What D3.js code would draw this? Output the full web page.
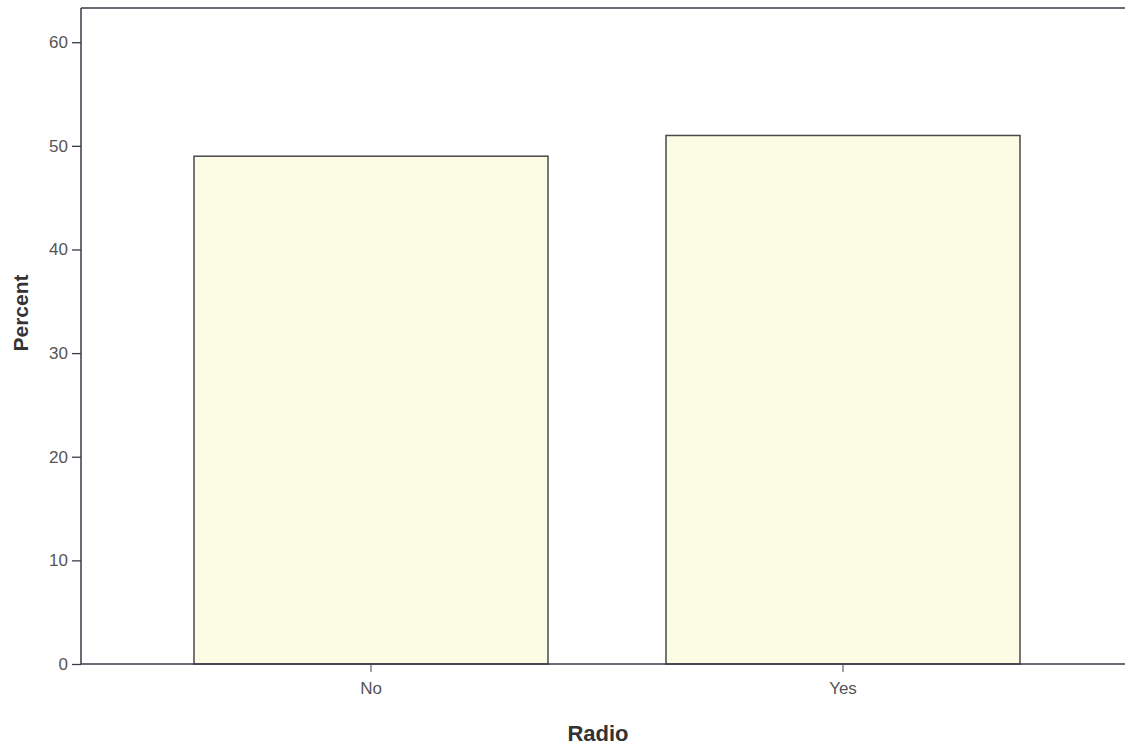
<!DOCTYPE html>
<html>
<head>
<meta charset="utf-8">
<script src="https://cdn.jsdelivr.net/npm/d3@7"></script>
<style>
  html, body { margin: 0; padding: 0; background: #ffffff; }
  svg { display: block; }
</style>
</head>
<body>
<svg id="chart" width="1129" height="754"></svg>
<script>
const categories = ["No", "Yes"];
const percentValues = [49.0, 51.0];
const yTickValues = [0, 10, 20, 30, 40, 50, 60];
const xAxisTitle = "Radio";
const yAxisTitle = "Percent";

const svg = d3.select("#chart");
const plot = { left: 81, right: 1125, top: 8, bottom: 664 };

const y = d3.scaleLinear().domain([0, 63.3]).range([plot.bottom, plot.top]);
const x = d3.scaleBand().domain(categories).range([76, 1138]).padding(0.25);

const axisColor = "#3a3a48";
const textColor = "#555555";
const font = "'Liberation Sans', Arial, sans-serif";

// top border
svg.append("line")
  .attr("x1", plot.left).attr("x2", plot.right)
  .attr("y1", plot.top).attr("y2", plot.top)
  .attr("stroke", axisColor).attr("stroke-width", 1.5);

// bars
svg.append("g").selectAll("rect")
  .data(categories.map((c, i) => ({ c, v: percentValues[i] })))
  .join("rect")
  .attr("x", d => x(d.c))
  .attr("y", d => y(d.v))
  .attr("width", x.bandwidth())
  .attr("height", d => y(0) - y(d.v))
  .attr("fill", "#fcfbe3")
  .attr("stroke", "#4a4a4a")
  .attr("stroke-width", 1.5);

// y axis
const yAxis = svg.append("g")
  .attr("transform", `translate(${plot.left},0)`)
  .call(d3.axisLeft(y).tickValues(yTickValues).tickSize(9).tickPadding(4).tickSizeOuter(0));
yAxis.select(".domain").remove();
yAxis.append("line")
  .attr("x1", 0).attr("x2", 0)
  .attr("y1", plot.top).attr("y2", plot.bottom)
  .attr("stroke", axisColor).attr("stroke-width", 1.5);
yAxis.selectAll(".tick line").attr("stroke", axisColor).attr("stroke-width", 1.3);
yAxis.selectAll(".tick text")
  .attr("fill", textColor)
  .style("font-family", font)
  .style("font-size", "17px");

// x axis
const xAxis = svg.append("g")
  .attr("transform", `translate(0,${plot.bottom})`)
  .call(d3.axisBottom(x).tickSize(8).tickPadding(10).tickSizeOuter(0));
xAxis.select(".domain").remove();
xAxis.append("line")
  .attr("x1", plot.left).attr("x2", plot.right)
  .attr("y1", 0).attr("y2", 0)
  .attr("stroke", axisColor).attr("stroke-width", 1.5);
xAxis.selectAll(".tick line").attr("stroke", "#7a6a72").attr("stroke-width", 1.3);
xAxis.selectAll(".tick text")
  .attr("fill", textColor)
  .style("font-family", font)
  .style("font-size", "17px");

// axis titles
svg.append("text")
  .attr("x", 598).attr("y", 741)
  .attr("text-anchor", "middle")
  .attr("fill", "#333333")
  .style("font-family", font)
  .style("font-size", "22px")
  .style("font-weight", "bold")
  .text(xAxisTitle);

svg.append("text")
  .attr("transform", "translate(28,313) rotate(-90)")
  .attr("text-anchor", "middle")
  .attr("fill", "#333333")
  .style("font-family", font)
  .style("font-size", "21px")
  .style("font-weight", "bold")
  .text(yAxisTitle);
</script>
</body>
</html>
